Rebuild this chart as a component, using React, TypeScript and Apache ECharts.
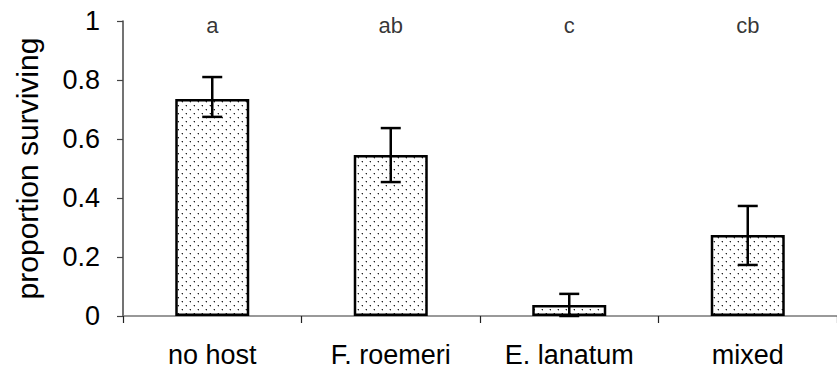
import React, { useEffect, useRef } from "react";
import * as echarts from "echarts";

const categories = ["no host", "F. roemeri", "E. lanatum", "mixed"];
const means = [0.736, 0.546, 0.037, 0.275];
const lows = [0.675, 0.454, 0.0, 0.173];
const highs = [0.81, 0.637, 0.075, 0.373];
const letters = ["a", "ab", "c", "cb"];
const letterLevel = [0.985, 0.985, 0.985, 0.985];

function makeDotPattern() {
  const c = document.createElement("canvas");
  c.width = 8;
  c.height = 8;
  const ctx = c.getContext("2d")!;
  ctx.fillStyle = "#ffffff";
  ctx.fillRect(0, 0, 8, 8);
  ctx.fillStyle = "#222222";
  ctx.fillRect(2, 1, 1, 1);
  ctx.fillRect(6, 5, 1, 1);
  ctx.fillStyle = "rgba(0,0,0,0.3)";
  ctx.fillRect(1, 1, 1, 1);
  ctx.fillRect(2, 2, 1, 1);
  ctx.fillRect(5, 5, 1, 1);
  ctx.fillRect(6, 6, 1, 1);
  return c;
}

export default function App() {
  const ref = useRef<HTMLDivElement>(null);
  useEffect(() => {
    if (!ref.current) return;
    const chart = echarts.init(ref.current, null, { renderer: "svg" });
    const pattern: any = {
      image: makeDotPattern(),
      repeat: "repeat",
      imageWidth: 8,
      imageHeight: 8,
    };
    const font = "'Liberation Sans', Arial, sans-serif";
    chart.setOption({
      animation: false,
      backgroundColor: "#ffffff",
      grid: { left: 123, top: 21, bottom: 59, right: -8, containLabel: false },
      xAxis: {
        type: "category",
        data: categories,
        axisLine: { lineStyle: { color: "#777", width: 1.5 } },
        axisTick: { show: true, length: 7, lineStyle: { color: "#222", width: 1.2 } },
        axisLabel: { color: "#000", fontSize: 27, fontFamily: font, margin: 25 },
      },
      yAxis: {
        type: "value",
        min: 0,
        max: 1,
        interval: 0.2,
        name: "proportion surviving",
        nameLocation: "middle",
        nameGap: 81,
        nameTextStyle: { color: "#000", fontSize: 30, fontFamily: font },
        axisLine: { show: true, lineStyle: { color: "#444", width: 1.5 } },
        axisTick: { show: true, length: 6, lineStyle: { color: "#444", width: 1.2 } },
        axisLabel: { color: "#000", fontSize: 27, fontFamily: font, margin: 23 },
        splitLine: { show: false },
      },
      series: [
        {
          type: "bar",
          data: means,
          barWidth: 74,
          itemStyle: { color: pattern, borderColor: "#000", borderWidth: 2.5 },
          z: 2,
        },
        {
          type: "custom",
          z: 5,
          data: categories.map((_, i) => [i, lows[i], highs[i]]),
          renderItem: (params: any, api: any) => {
            const x = api.value(0);
            const lo = api.coord([x, api.value(1)]);
            const hi = api.coord([x, api.value(2)]);
            const cap = 10;
            const style = { stroke: "#000", lineWidth: 2.5 };
            return {
              type: "group",
              children: [
                { type: "line", shape: { x1: hi[0], y1: hi[1], x2: lo[0], y2: lo[1] }, style },
                { type: "line", shape: { x1: hi[0] - cap, y1: hi[1], x2: hi[0] + cap, y2: hi[1] }, style },
                { type: "line", shape: { x1: lo[0] - cap, y1: lo[1], x2: lo[0] + cap, y2: lo[1] }, style },
              ],
            };
          },
        },
        {
          type: "scatter",
          data: letterLevel,
          symbolSize: 0,
          silent: true,
          label: {
            show: true,
            position: "inside",
            formatter: (p: any) => letters[p.dataIndex],
            color: "#000",
            fontSize: 22,
            fontFamily: font,
          },
        },
      ],
    });
    return () => chart.dispose();
  }, []);
  return (
    <div
      ref={ref}
      style={{ width: 837, height: 375, position: "fixed", left: 0, top: 0 }}
    />
  );
}
